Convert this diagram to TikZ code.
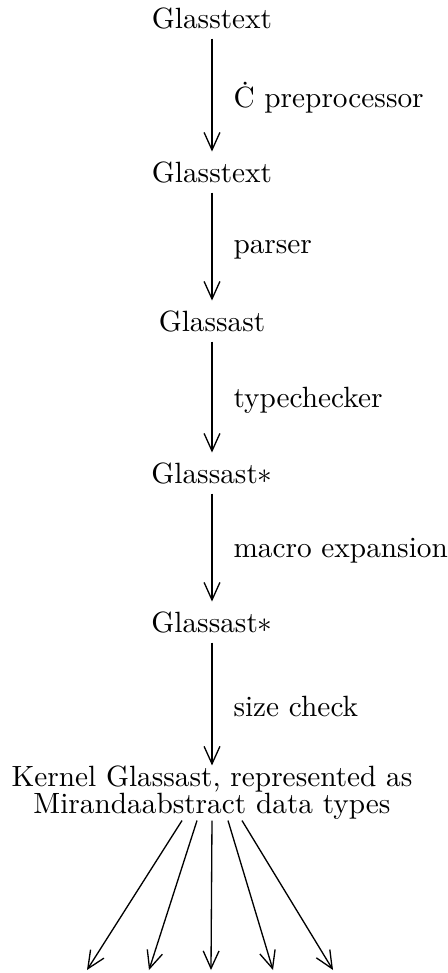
\documentclass[tikz,border=0pt]{standalone}
\usetikzlibrary{arrows.meta}
\begin{document}
\begin{tikzpicture}[x=0.012cm,y=-0.012cm,
    stage/.style={inner sep=0pt,outer ysep=3.6pt,text height=6.8pt,text depth=0pt,anchor=base},
    pass/.style={line width=0.45pt,-{Straight Barb[length=2.1mm,width=1.9mm]}},
    passname/.style={anchor=west,inner sep=0pt,xshift=0.25cm,yshift=-1pt}]
  \useasboundingbox (0,0) rectangle (448,973);
  %% stages
  \node[stage] (src)      at (212, 28) {Glasstext};
  \node[stage] (cpp)      at (212,182) {Glasstext};
  \node[stage] (parsed)   at (212,331) {Glassast};
  \node[stage] (typed)    at (212,483) {Glassast$*$};
  \node[stage] (expanded) at (212,632) {Glassast$*$};
  \node[align=center,inner sep=0pt,font=\fontsize{10}{9.3}\selectfont]
        (kernel) at (212,793)
        {Kernel Glassast, represented as\\Mirandaabstract data types};
  %% passes
  \draw[pass] (src) -- node[passname] {\.{C} preprocessor} (cpp);
  \draw[pass] (cpp) -- node[passname] {parser} (parsed);
  \draw[pass] (parsed) -- node[passname] {typechecker} (typed);
  \draw[pass] (typed) -- node[passname] {macro expansion} (expanded);
  \draw[pass] (expanded) -- node[passname] {size check} (kernel);
  %% fan out
  \foreach \i/\x in {1/87,2/149,3/211,4/273,5/333}
    \coordinate (out\i) at (\x,970);
  \foreach \dx/\i in {-30/1,-15/2,0/3,16/4,30/5}
    \draw[pass] (kernel.south) ++(\dx,0) -- (out\i);
\end{tikzpicture}
\end{document}
